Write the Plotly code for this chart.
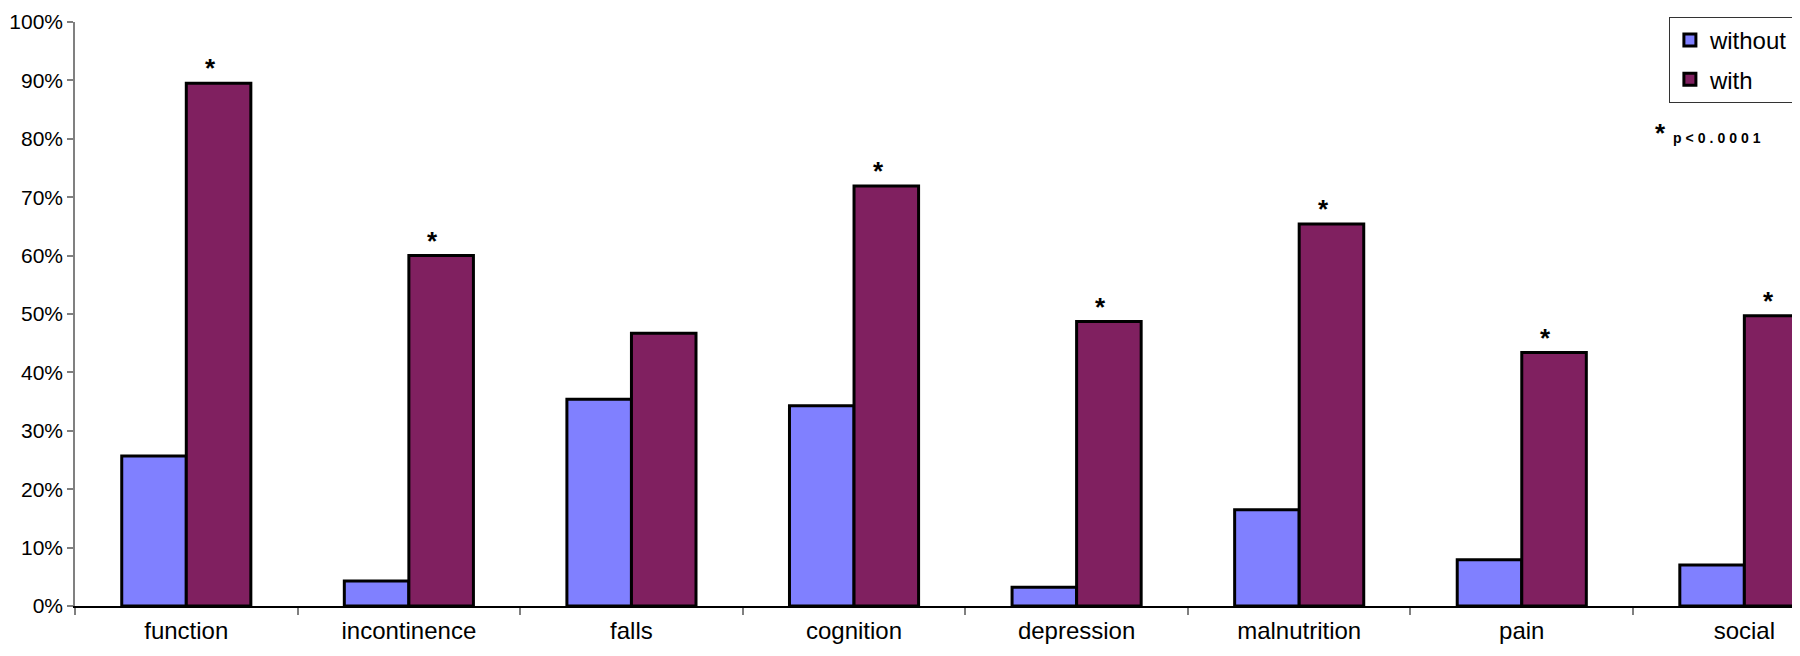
import plotly.graph_objects as go

# data (percent)
categories = ["function", "incontinence", "falls", "cognition",
              "depression", "malnutrition", "pain", "social"]
without_vals = [25.7, 4.3, 35.4, 34.3, 3.2, 16.5, 7.9, 7.0]
with_vals = [89.5, 60.0, 46.7, 71.9, 48.7, 65.4, 43.4, 49.7]
significant = [True, True, False, True, True, True, True, True]
y_ticks = [0, 10, 20, 30, 40, 50, 60, 70, 80, 90, 100]
y_tick_labels = [f"{v}%" for v in y_ticks]

FONT = "Liberation Sans, Arial, sans-serif"
BAR_GAP = 0.42

fig = go.Figure()
fig.add_trace(go.Bar(
    x=categories, y=without_vals, name="without", legendgroup="a",
    marker=dict(color="#8080ff", line=dict(color="black", width=3)),
))
fig.add_trace(go.Bar(
    x=categories, y=with_vals, name="with", legendgroup="b",
    marker=dict(color="#802060", line=dict(color="black", width=3)),
))

# asterisks above the significant "with" bars
for cat, val, sig in zip(categories, with_vals, significant):
    if not sig:
        continue
    fig.add_annotation(
        x=cat, y=val, text="<b>*</b>", showarrow=False,
        xshift=24, yshift=15, yanchor="middle",
        font=dict(family=FONT, size=26, color="black"),
    )

# footnote
fig.add_annotation(
    xref="paper", yref="paper", x=0.919, y=0.81, text="<b>*</b>",
    showarrow=False, xanchor="center", yanchor="middle",
    font=dict(family=FONT, size=26, color="black"),
)
fig.add_annotation(
    xref="paper", yref="paper", x=0.9254, y=0.802,
    text='<span style="letter-spacing:4px">p&lt;0.0001</span>',
    showarrow=False, xanchor="left", yanchor="middle",
    font=dict(family=FONT, size=14, color="black", weight="bold"),
)

# page has an 8px body margin, so the figure is 8px smaller and offset
fig.update_layout(
    width=1792, height=648,
    margin=dict(l=67, r=0, t=14, b=50),
    paper_bgcolor="white", plot_bgcolor="white",
    barmode="group", bargap=BAR_GAP, bargroupgap=0,
    font=dict(family=FONT, size=24, color="black"),
    showlegend=True,
    legend=dict(
        x=0.924, y=1.0086, xanchor="left", yanchor="top",
        bgcolor="white", bordercolor="#333333", borderwidth=1,
        font=dict(family=FONT, size=24, color="black"),
        traceorder="grouped", tracegroupgap=5, itemwidth=30,
    ),
    xaxis=dict(
        type="category", range=[-0.5, 7.25], automargin=False,
        showline=True, linecolor="black", linewidth=1.5,
        ticks="outside", tickson="boundaries", ticklen=7,
        tickcolor="#808080", tickwidth=1.5,
        ticklabelstandoff=2,
        tickfont=dict(family=FONT, size=24, color="black"),
        showgrid=False, zeroline=False, fixedrange=True,
    ),
    yaxis=dict(
        range=[0, 100], tickmode="array", automargin=False,
        tickvals=y_ticks, ticktext=y_tick_labels,
        showline=True, linecolor="#808080", linewidth=1.5,
        ticks="outside", ticklen=6, tickcolor="#808080", tickwidth=1.5,
        tickfont=dict(family=FONT, size=21, color="black"),
        showgrid=False, zeroline=False, fixedrange=True,
    ),
)

fig.write_html("out.html")
